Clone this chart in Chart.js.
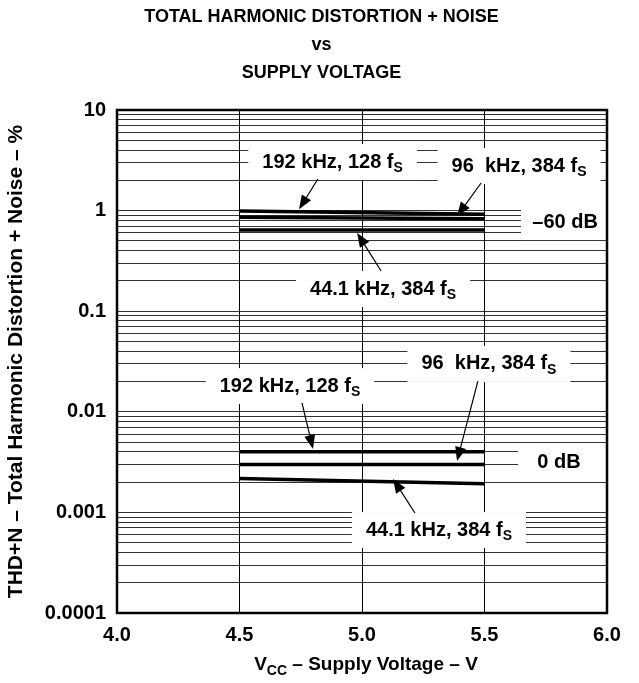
<!DOCTYPE html>
<html>
<head>
<meta charset="utf-8">
<script src="https://cdn.jsdelivr.net/npm/chart.js@4.4.1/dist/chart.umd.min.js"></script>
<style>
  html, body { margin: 0; padding: 0; background: #fff; }
  #wrap { width: 639px; height: 683px; }
</style>
</head>
<body>
<div id="wrap"><canvas id="thd"></canvas></div>
<script>
// supply voltage (V) at the ends of each measured trace
const voltages = [4.5, 5.5]

// THD+N (%) at -60 dB
const thd192k_m60 = [0.99, 0.92]
const thd96k_m60 = [0.86, 0.83]
const thd44k_m60 = [0.64, 0.64]

// THD+N (%) at 0 dB
const thd192k_0 = [0.0040, 0.0040]
const thd96k_0 = [0.0030, 0.0030]
const thd44k_0 = [0.00217, 0.00193]

const xTicks = [4.0, 4.5, 5.0, 5.5, 6.0]
const yDecades = [0.0001, 0.001, 0.01, 0.1, 1, 10]
const yTickLabels = ['0.0001', '0.001', '0.01', '0.1', '1', '10']

const FONT = '"Liberation Sans", Arial, Helvetica, sans-serif'
const NOTE_SIZE = 20
const SUB_SIZE = 14

// labels + arrows, placed in data units (x = volts, y = %)
const notes = [
  { text: '192 kHz, 128 f', sub: 'S', x: 4.88, y: 3.04, from: [4.82, 2.06], to: [4.743, 1.03] },
  { text: '96  kHz, 384 f', sub: 'S', x: 5.641, y: 2.77, from: [5.486, 1.88], to: [5.388, 0.88] },
  { text: '44.1 kHz, 384 f', sub: 'S', x: 5.086, y: 0.166, from: [5.078, 0.251], to: [4.98, 0.6] },
  { text: '192 kHz, 128 f', sub: 'S', x: 4.706, y: 0.018, from: [4.755, 0.01225], to: [4.8, 0.00427] },
  { text: '96  kHz, 384 f', sub: 'S', x: 5.518, y: 0.0299, from: [5.473, 0.0202], to: [5.388, 0.00324] },
  { text: '44.1 kHz, 384 f', sub: 'S', x: 5.314, y: 0.000668, from: [5.216, 0.000986], to: [5.127, 0.00215] },
]
const levelNotes = [
  { text: '\u201360 dB', x: 5.829, y: 0.77, left: 5.649 },
  { text: '0 dB', x: 5.804, y: 0.0031, left: 5.637 },
]

const yTickValues = []
yDecades.forEach(function (d, i) {
  yTickValues.push(d)
  if (i < yDecades.length - 1) {
    for (let m = 2; m <= 9; m++) yTickValues.push(+(d * m).toPrecision(3))
  }
})

function line(data) {
  return {
    data: voltages.map(function (v, i) { return { x: v, y: data[i] } }),
    borderColor: '#000',
    borderWidth: 3.5,
    pointRadius: 0,
    fill: false,
  }
}

function measureNote(ctx, n) {
  ctx.font = 'bold ' + NOTE_SIZE + 'px ' + FONT
  const w1 = ctx.measureText(n.text).width
  ctx.font = 'bold ' + SUB_SIZE + 'px ' + FONT
  const w2 = n.sub ? ctx.measureText(n.sub).width : 0
  return [w1, w2]
}

function drawNoteText(ctx, n, cx, cy) {
  const w = measureNote(ctx, n)
  const x0 = cx - (w[0] + w[1]) / 2
  ctx.fillStyle = '#000'
  ctx.textAlign = 'left'
  ctx.textBaseline = 'middle'
  ctx.font = 'bold ' + NOTE_SIZE + 'px ' + FONT
  ctx.fillText(n.text, x0, cy)
  if (n.sub) {
    ctx.font = 'bold ' + SUB_SIZE + 'px ' + FONT
    ctx.fillText(n.sub, x0 + w[0], cy + 6)
  }
}

const notesPlugin = {
  id: 'notes',
  beforeDatasetsDraw(chart) {
    const ctx = chart.ctx, xs = chart.scales.x, ys = chart.scales.y, a = chart.chartArea
    ctx.save()
    ctx.fillStyle = '#fff'
    notes.forEach(function (n) {
      const w = measureNote(ctx, n)
      const bw = w[0] + w[1] + 28
      const cx = xs.getPixelForValue(n.x), cy = ys.getPixelForValue(n.y)
      ctx.fillRect(cx - bw / 2, cy - 18, bw, 36)
    })
    levelNotes.forEach(function (n) {
      const l = xs.getPixelForValue(n.left), cy = ys.getPixelForValue(n.y)
      ctx.fillRect(l, cy - 18, a.right - l, 36)
    })
    ctx.restore()
  },
  afterDatasetsDraw(chart) {
    const ctx = chart.ctx, xs = chart.scales.x, ys = chart.scales.y
    ctx.save()
    notes.forEach(function (n) {
      drawNoteText(ctx, n, xs.getPixelForValue(n.x), ys.getPixelForValue(n.y))
      const x1 = xs.getPixelForValue(n.from[0]), y1 = ys.getPixelForValue(n.from[1])
      const x2 = xs.getPixelForValue(n.to[0]), y2 = ys.getPixelForValue(n.to[1])
      const ang = Math.atan2(y2 - y1, x2 - x1)
      const hl = 14, hw = 5.5
      ctx.strokeStyle = '#000'
      ctx.lineWidth = 1.2
      ctx.beginPath()
      ctx.moveTo(x1, y1)
      ctx.lineTo(x2 - Math.cos(ang) * hl * 0.8, y2 - Math.sin(ang) * hl * 0.8)
      ctx.stroke()
      ctx.beginPath()
      ctx.moveTo(x2, y2)
      ctx.lineTo(x2 - Math.cos(ang) * hl - Math.sin(ang) * hw, y2 - Math.sin(ang) * hl + Math.cos(ang) * hw)
      ctx.lineTo(x2 - Math.cos(ang) * hl + Math.sin(ang) * hw, y2 - Math.sin(ang) * hl - Math.cos(ang) * hw)
      ctx.closePath()
      ctx.fillStyle = '#000'
      ctx.fill()
    })
    levelNotes.forEach(function (n) {
      drawNoteText(ctx, n, xs.getPixelForValue(n.x), ys.getPixelForValue(n.y))
    })
    ctx.restore()
  },
  afterDraw(chart) {
    const ctx = chart.ctx, a = chart.chartArea
    ctx.save()
    // frame round the plot
    ctx.strokeStyle = '#000'
    ctx.lineWidth = 2.5
    ctx.strokeRect(a.left, a.top, a.right - a.left, a.bottom - a.top)

    // chart title
    ctx.fillStyle = '#000'
    ctx.textAlign = 'center'
    ctx.textBaseline = 'middle'
    ctx.font = 'bold 18px ' + FONT
    const cx = chart.width / 2 + 2
    ctx.fillText('TOTAL HARMONIC DISTORTION + NOISE', cx, 17)
    ctx.fillText('vs', cx, 45)
    ctx.fillText('SUPPLY VOLTAGE', cx, 73)

    // x axis title with subscript
    const parts = [['V', 19, 0], ['CC', 14, 6], [' \u2013 Supply Voltage \u2013 V', 19, 0]]
    let total = 0
    parts.forEach(function (p) { ctx.font = 'bold ' + p[1] + 'px ' + FONT; p.push(ctx.measureText(p[0]).width); total += p[3] })
    let x = (a.left + a.right) / 2 - total / 2 + 4
    ctx.textAlign = 'left'
    parts.forEach(function (p) {
      ctx.font = 'bold ' + p[1] + 'px ' + FONT
      ctx.fillText(p[0], x, 665 + p[2])
      x += p[3]
    })
    ctx.restore()
  }
}

const chart = new Chart(document.getElementById('thd'), {
  type: 'line',
  data: {
    datasets: [
      line(thd192k_m60), line(thd96k_m60), line(thd44k_m60),
      line(thd192k_0), line(thd96k_0), line(thd44k_0),
    ]
  },
  options: {
    responsive: true,
    maintainAspectRatio: false,
    animation: false,
    devicePixelRatio: 1,
    events: [],
    layout: { padding: { top: 110, right: 32, bottom: 0, left: 0 } },
    plugins: {
      legend: { display: false },
      tooltip: { enabled: false },
      title: { display: false },
    },
    scales: {
      x: {
        type: 'linear',
        min: 4.0,
        max: 6.0,
        afterFit(scale) { scale.height = 70 },
        afterBuildTicks(scale) { scale.ticks = xTicks.map(function (v) { return { value: v } }) },
        border: { display: false },
        grid: { color: '#000', lineWidth: 1, drawTicks: false },
        ticks: {
          padding: 10,
          color: '#000',
          font: { family: FONT, size: 20, weight: 'bold' },
          callback: function (v) { return Number(v).toFixed(1) },
        },
      },
      y: {
        type: 'logarithmic',
        min: 0.0001,
        max: 10,
        afterFit(scale) { scale.width = 117 },
        afterBuildTicks(scale) { scale.ticks = yTickValues.map(function (v) { return { value: v } }) },
        border: { display: false },
        grid: { color: 'rgba(0,0,0,0.8)', lineWidth: 1, drawTicks: false },
        title: {
          display: true,
          text: 'THD+N \u2013 Total Harmonic Distortion + Noise \u2013 %',
          color: '#000',
          font: { family: FONT, size: 21, weight: 'bold' },
          padding: { top: 4, bottom: 0 },
        },
        ticks: {
          autoSkip: false,
          padding: 11,
          color: '#000',
          font: { family: FONT, size: 20, weight: 'bold' },
          callback: function (v) {
            const i = yDecades.indexOf(v)
            return i >= 0 ? yTickLabels[i] : ''
          },
        },
      },
    },
  },
  plugins: [notesPlugin],
})
</script>
</body>
</html>
